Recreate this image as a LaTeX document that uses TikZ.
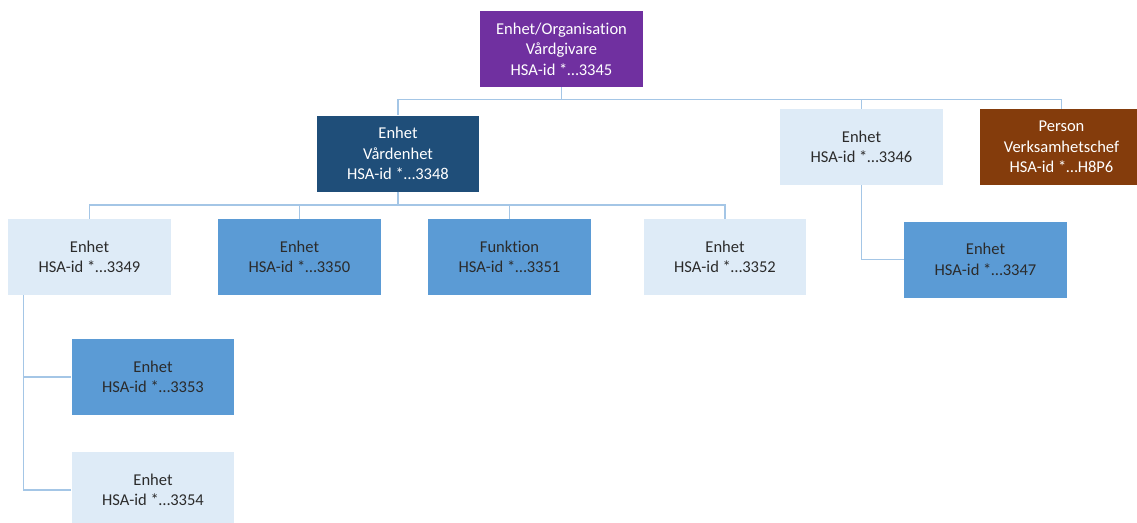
\documentclass[tikz,border=0pt]{standalone}
\usepackage{fontspec}
\setmainfont{Carlito}[Ligatures=CommonOff]
\definecolor{vgpurple}{HTML}{7030A0}
\definecolor{vedark}{HTML}{1F4E79}
\definecolor{enmid}{HTML}{5B9BD5}
\definecolor{enlight}{HTML}{DEEBF7}
\definecolor{persbrown}{HTML}{843C0C}
\definecolor{linkblue}{HTML}{A4C6E6}
\definecolor{darktext}{HTML}{2B2B2B}

\begin{document}
\begin{tikzpicture}[x=0.75pt, y=-0.75pt,
  every node/.style = {shape=rectangle, minimum width=122pt, minimum height=57pt,
    inner sep=0pt, align=center, font=\fontsize{12.4}{15.4}\selectfont},
  vg/.style = {fill=vgpurple, text=white},
  ve/.style = {fill=vedark, text=white},
  mid/.style = {fill=enmid, text=darktext},
  light/.style = {fill=enlight, text=darktext},
  pers/.style = {fill=persbrown, text=white},
  link/.style = {draw=linkblue, line width=1.1pt}]
  \useasboundingbox (0,0) rectangle (1137,522);
  \node (top) [vg] at (561.5,49) {Enhet/Organisation\\Vårdgivare\\HSA-id *…3345};
  \node (vard) [ve] at (398,153.5) {Enhet\\Vårdenhet\\HSA-id *…3348};
  \node (e3346) [light] at (861.5,147) {Enhet\\HSA-id *…3346};
  \node (chef) [pers] at (1061.5,147) {Person\\Verksamhetschef\\HSA-id *…H8P6};
  \node (e3349) [light] at (89.5,257) {Enhet\\HSA-id *…3349};
  \node (e3350) [mid] at (299.5,257) {Enhet\\HSA-id *…3350};
  \node (f3351) [mid] at (509.5,257) {Funktion\\HSA-id *…3351};
  \node (e3352) [light] at (725,257) {Enhet\\HSA-id *…3352};
  \node (e3347) [mid] at (985.5,259.5) {Enhet\\HSA-id *…3347};
  \node (e3353) [mid] at (153,377) {Enhet\\HSA-id *…3353};
  \node (e3354) [light] at (153,490) {Enhet\\HSA-id *…3354};
  % lines
  \foreach \c in {vard, e3346, chef}
    \draw [link] (top.south) -- ++(0,12) -| (\c.north);
  \foreach \c in {e3349, e3350, f3351, e3352}
    \draw [link] (vard.south) -- ++(0,13) -| (\c.north);
  \draw [link] (e3346.south) |- (e3347.west);
  \coordinate (stem) at ([xshift=11.6pt]e3349.south west);
  \draw [link] (stem) |- (e3353.west);
  \draw [link] (stem) |- (e3354.west);
\end{tikzpicture}
\end{document}
